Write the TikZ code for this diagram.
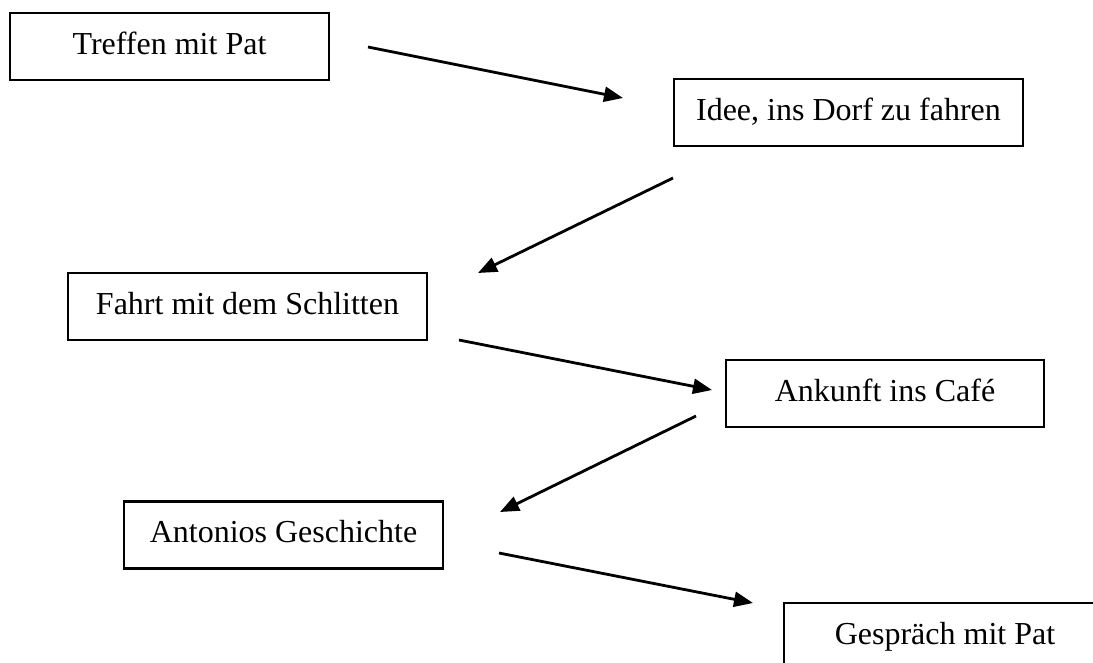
\documentclass[tikz,border=0pt]{standalone}
\usepackage{fontspec}
\setmainfont{Liberation Serif}
\usetikzlibrary{arrows.meta}

\begin{document}
\begin{tikzpicture}[x=1pt, y=-1pt,
    box/.style={draw, line width=2.2pt, inner sep=0pt, minimum height=67pt,
      text height=24pt, text depth=9pt, font=\fontsize{32}{36}\selectfont},
    pfeil/.style={-{Triangle[length=19pt,width=15pt]}, line width=2.8pt}]
    \useasboundingbox (0,0) rectangle (1093,662);
    \clip (0,0) rectangle (1093,662);

    \node[box, minimum width=319pt] (0) at (169.5, 46.5) {Treffen mit Pat};
    \node[box, minimum width=349pt] (1) at (848.5, 112.5) {Idee, ins Dorf zu fahren};
    \node[box, minimum width=359pt] (2) at (247.5, 306.5) {Fahrt mit dem Schlitten};
    \node[box, minimum width=318pt] (3) at (885, 393.5) {Ankunft ins Café};
    \node[box, minimum width=319pt] (4) at (283.5, 535) {Antonios Geschichte};
    \node[box, minimum width=322pt] (5) at (945, 636.5) {Gespräch mit Pat};

    % free arrow ends
    \coordinate (0a) at (368, 47);
    \coordinate (1a) at (623, 98);
    \coordinate (1b) at (673, 178);
    \coordinate (2a) at (478, 273);
    \coordinate (2b) at (459, 340);
    \coordinate (3a) at (712, 390);
    \coordinate (3b) at (696, 416);
    \coordinate (4a) at (500, 512);
    \coordinate (4b) at (499, 553);
    \coordinate (5a) at (753, 603);

    \draw[pfeil] (0a) -- (1a);
    \draw[pfeil] (1b) -- (2a);
    \draw[pfeil] (2b) -- (3a);
    \draw[pfeil] (3b) -- (4a);
    \draw[pfeil] (4b) -- (5a);
  \end{tikzpicture}
\end{document}
